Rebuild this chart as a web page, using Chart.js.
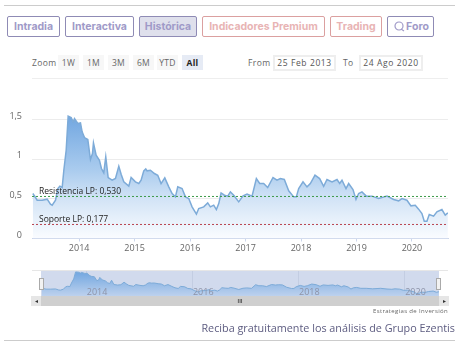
<!DOCTYPE html>
<html>
<head>
<meta charset="utf-8">
<script src="https://cdn.jsdelivr.net/npm/chart.js@4"></script>
<style>
body { margin: 0; background: #fff; width: 461px; height: 352px; overflow: hidden; position: relative; font-family: Lato, sans-serif; }
.abs { position: absolute; box-sizing: border-box; white-space: nowrap; }
.tab { top: 16px; height: 21px; line-height: 19px; border: 1px solid #8f8bb5; border-radius: 2px; text-align: center; font: bold 10.5px/19px Inter, sans-serif; color: #a09ac8; }
.tab.red { border-color: #dba0a0; color: #e8b4b4; }
.tab.on { background: #dfe0ec; }
.rng { top: 55px; height: 15px; font: 8.5px/15px "Open Sans", sans-serif; color: #666; text-align: center; background: #f7f7f7; letter-spacing: .3px; }
.lbl { top: 55px; height: 15px; font: 8.5px/15px "Open Sans", sans-serif; color: #666; letter-spacing: .4px; }
.inp { top: 55px; height: 16px; border: 2px solid #eee; font: 8.5px/12px "Open Sans", sans-serif; color: #555; text-align: center; letter-spacing: .6px; }
.rule { height: 1px; }
canvas { position: absolute; display: block; }
</style>
</head>
<body>
<div class="abs rule" style="left:4px;top:5px;width:451px;background:#ccc"></div>
<div class="abs tab" style="left:7px;width:53px">Intradia</div>
<div class="abs tab" style="left:65px;width:69px">Interactiva</div>
<div class="abs tab on" style="left:139px;width:58px">Histórica</div>
<div class="abs tab red" style="left:202px;width:123px">Indicadores Premium</div>
<div class="abs tab red" style="left:330px;width:52px">Trading</div>
<div class="abs tab" style="left:387px;width:47px;padding-left:14px">Foro
  <svg style="position:absolute;left:6px;top:4px" width="11" height="11" viewBox="0 0 11 11" fill="none" stroke="#a09ac8" stroke-width="1.2"><circle cx="5" cy="5" r="4"/><path d="M7 8l3 2"/></svg>
</div>

<div class="abs lbl" style="left:32px;width:24px">Zoom</div>
<div class="abs rng" style="left:58px;width:21px">1W</div>
<div class="abs rng" style="left:83px;width:21px">1M</div>
<div class="abs rng" style="left:108px;width:21px">3M</div>
<div class="abs rng" style="left:133px;width:21px">6M</div>
<div class="abs rng" style="left:157px;width:21px">YTD</div>
<div class="abs rng" style="left:182px;width:21px;background:#e6ebf5;color:#222;font-weight:bold">All</div>
<div class="abs lbl" style="left:248px">From</div>
<div class="abs inp" style="left:273px;width:63px">25 Feb 2013</div>
<div class="abs lbl" style="left:343px">To</div>
<div class="abs inp" style="left:359px;width:64px">24 Ago 2020</div>
<div class="abs rule" style="left:32px;top:78px;width:416px;background:#eee"></div>

<canvas id="main_chart" width="461" height="170" style="left:0;top:90px"></canvas>

<div class="abs rule" style="left:32px;top:270px;width:416px;background:#e6e6e6"></div>
<canvas id="nav_chart" width="461" height="26" style="left:0;top:271px"></canvas>
<div class="abs" style="left:39px;top:278px;width:5px;height:12px;background:#f2f2f2;border:1px solid #aaa"></div>
<div class="abs" style="left:436px;top:278px;width:5px;height:12px;background:#f2f2f2;border:1px solid #aaa"></div>
<div class="abs" style="left:31px;top:296px;width:418px;height:10px;background:#cfcfcf"></div>
<div class="abs" style="left:31px;top:296px;width:10px;height:10px;background:#e6e6e6;color:#333;font:6px/10px sans-serif;text-align:center">◂</div>
<div class="abs" style="left:439px;top:296px;width:10px;height:10px;background:#e6e6e6;color:#333;font:6px/10px sans-serif;text-align:center">▸</div>
<div class="abs" style="left:236px;top:296px;width:8px;height:10px;color:#555;font:bold 6px/10px sans-serif;text-align:center">III</div>
<div class="abs" style="right:13px;top:307px;font:6px/8px 'Open Sans',sans-serif;color:#666;letter-spacing:.35px">Estrategias de Inversión</div>
<div class="abs" style="right:6px;top:320px;font:10.8px/15px 'Open Sans',sans-serif;color:#5d5c80">Reciba gratuitamente los análisis de Grupo Ezentis</div>
<div class="abs rule" style="left:4px;top:340px;width:451px;background:#ccc"></div>

<script>
var fechas = [2013.165,2013.213,2013.243,2013.333,2013.423,2013.483,2013.514,2013.574,2013.616,2013.652,2013.694,2013.724,2013.766,2013.802,2013.856,2013.892,2013.916,2013.976,
  2014.024,2014.054,2014.096,2014.156,2014.204,2014.24,2014.258,2014.306,2014.366,2014.402,2014.444,2014.48,2014.523,2014.595,2014.655,2014.715,2014.757,2014.805,2014.895,2014.937,
  2015.015,2015.075,2015.117,2015.165,2015.201,2015.225,2015.285,2015.357,2015.417,2015.477,2015.544,2015.616,2015.676,2015.736,2015.778,2015.856,2015.916,2015.976,
  2016.036,2016.114,2016.156,2016.246,2016.318,2016.366,2016.426,2016.474,2016.517,2016.559,2016.619,2016.679,2016.727,2016.787,2016.877,2016.955,
  2017.027,2017.117,2017.195,2017.255,2017.327,2017.399,2017.495,2017.567,2017.627,2017.699,2017.778,2017.868,2017.916,2017.958,
  2018.036,2018.108,2018.168,2018.252,2018.336,2018.408,2018.468,2018.559,2018.649,2018.697,2018.739,2018.811,2018.859,2018.937,2018.991,
  2019.039,2019.099,2019.177,2019.279,2019.399,2019.55,2019.67,2019.76,2019.82,2019.91,2019.982,
  2020.06,2020.12,2020.18,2020.222,2020.27,2020.312,2020.39,2020.45,2020.54,2020.6,2020.648];
var valores = [.567,.517,.483,.483,.496,.433,.42,.483,.63,.66,.643,.861,1.113,1.542,1.525,1.47,1.513,1.45,
  1.458,1.345,1.273,1.248,.996,1.071,1.206,1.05,.987,.882,.828,1.029,.769,.735,.756,.912,.811,.714,.66,.769,
  .714,.693,.735,.853,.878,.853,.861,.819,.798,.693,.765,.651,.567,.525,.651,.63,.525,.504,
  .399,.307,.378,.399,.449,.399,.42,.365,.44,.574,.546,.534,.588,.546,.462,.538,
  .559,.534,.756,.693,.693,.643,.769,.735,.756,.744,.601,.525,.525,.63,
  .714,.651,.693,.798,.756,.659,.744,.714,.744,.693,.735,.63,.693,.618,.492,
  .567,.588,.534,.534,.504,.534,.492,.475,.504,.483,.412,
  .42,.37,.315,.218,.218,.303,.282,.336,.365,.294,.324];
var anios = [2014,2015,2016,2017,2018,2019,2020];
var aniosNav = [2014,2016,2018,2020];
var ticksY = [0,0.5,1,1.5];
var resistencia = 0.53;
var soporte = 0.177;
var inicio = 2013.15;
var fin = 2020.65;

var serie = fechas.map(function (f, i) { return {x: f, y: valores[i]}; });

function nivel(v) {
    return [{x: inicio, y: v}, {x: fin, y: v}];
}

function gradiente(paradas) {
    return function (ctx) {
        var area = ctx.chart.chartArea;
        if (!area) return paradas[0][1];
        var g = ctx.chart.ctx.createLinearGradient(0, area.top, 0, area.bottom);
        paradas.forEach(function (p) { g.addColorStop(p[0], p[1]); });
        return g;
    };
}

// textos de soporte y resistencia encima de cada linea
var etiquetas = {
    id: 'etiquetas',
    afterDatasetsDraw: function (chart) {
        var c = chart.ctx, y = chart.scales.y;
        c.save();
        c.font = '8.5px "Open Sans", sans-serif';
        c.fillStyle = '#222';
        c.textBaseline = 'bottom';
        c.fillText('Resistencia LP: 0,530', 39, y.getPixelForValue(resistencia) - 1);
        c.fillText('Soporte LP: 0,177', 39, y.getPixelForValue(soporte) - 1);
        c.restore();
    }
};

function sinRelleno(s) {
    s.paddingTop = 0;
    s.paddingBottom = 0;
    s.paddingLeft = 0;
    s.paddingRight = 0;
}

new Chart(document.getElementById('main_chart').getContext('2d'), {
    type: 'line',
    data: {
        datasets: [{
            order: 2,
            data: serie,
            borderColor: '#7dabd8',
            borderWidth: 1.5,
            pointRadius: 0,
            tension: 0,
            fill: 'origin',
            backgroundColor: gradiente([[0.1, '#6fa5e0'], [0.5, '#a9cbee'], [0.72, '#d3e4f6'], [1, '#fafcff']])
        }, {
            order: 1,
            data: nivel(resistencia),
            borderColor: '#3d9a4a',
            borderWidth: 1,
            borderDash: [2, 2],
            pointRadius: 0
        }, {
            order: 1,
            data: nivel(soporte),
            borderColor: '#b8434f',
            borderWidth: 1,
            borderDash: [2, 2],
            pointRadius: 0
        }]
    },
    options: {
        responsive: false,
        animation: false,
        layout: {padding: {top: 9.7, right: 13, left: 0, bottom: 0}},
        plugins: {legend: {display: false}, tooltip: {enabled: false}},
        scales: {
            x: {
                type: 'linear',
                min: inicio,
                max: fin,
                afterBuildTicks: function (s) { s.ticks = anios.map(function (v) { return {value: v}; }); },
                afterFit: function (s) { s.height = 21.5; sinRelleno(s); },
                grid: {drawOnChartArea: false, tickLength: 3, color: '#ccd6eb'},
                border: {color: '#ccd6eb'},
                ticks: {
                    padding: 2,
                    maxRotation: 0,
                    autoSkip: false,
                    color: '#666',
                    font: {size: 9, family: '"Open Sans", sans-serif'},
                    callback: function (v) { return String(v); }
                }
            },
            y: {
                min: 0,
                max: 1.75,
                afterBuildTicks: function (s) { s.ticks = ticksY.map(function (v) { return {value: v}; }); },
                afterFit: function (s) { s.width = 32; sinRelleno(s); },
                grid: {color: '#ececec', drawTicks: false},
                border: {display: false},
                ticks: {
                    padding: 10,
                    labelOffset: -3.5,
                    color: '#666',
                    font: {size: 9, family: '"Open Sans", sans-serif'},
                    callback: function (v) { return String(v).replace('.', ','); }
                }
            }
        }
    },
    plugins: [etiquetas]
});

// navegador inferior
var fondoNav = {
    id: 'fondoNav',
    beforeDraw: function (chart) {
        var a = chart.chartArea, c = chart.ctx;
        c.save();
        c.fillStyle = '#d1daed';
        c.fillRect(a.left, a.top, a.right - a.left, a.bottom - a.top);
        c.restore();
    },
    afterDatasetsDraw: function (chart) {
        var c = chart.ctx, x = chart.scales.x;
        c.save();
        c.font = '9px "Open Sans", sans-serif';
        c.fillStyle = '#8d93a8';
        c.textAlign = 'center';
        c.textBaseline = 'middle';
        aniosNav.forEach(function (a) {
            c.fillText(String(a), x.getPixelForValue(a) + 11, 21);
        });
        c.restore();
    }
};

new Chart(document.getElementById('nav_chart').getContext('2d'), {
    type: 'line',
    data: {
        datasets: [{
            data: serie,
            borderColor: '#7dabd8',
            borderWidth: 1,
            pointRadius: 0,
            tension: 0,
            fill: 'origin',
            backgroundColor: gradiente([[0, '#6fa5e0'], [1, '#c0d3ee']])
        }]
    },
    options: {
        responsive: false,
        animation: false,
        layout: {padding: {left: 41, right: 22, top: 0, bottom: 0}},
        plugins: {legend: {display: false}, tooltip: {enabled: false}},
        scales: {
            x: {
                type: 'linear',
                min: inicio,
                max: fin,
                afterBuildTicks: function (s) { s.ticks = aniosNav.map(function (v) { return {value: v}; }); },
                afterFit: function (s) { s.height = 0; sinRelleno(s); },
                grid: {color: 'rgba(170,180,205,0.35)', drawTicks: false},
                border: {display: false},
                ticks: {display: false}
            },
            y: {min: 0, max: 1.6, display: false}
        }
    },
    plugins: [fondoNav]
});
</script>
</body>
</html>
